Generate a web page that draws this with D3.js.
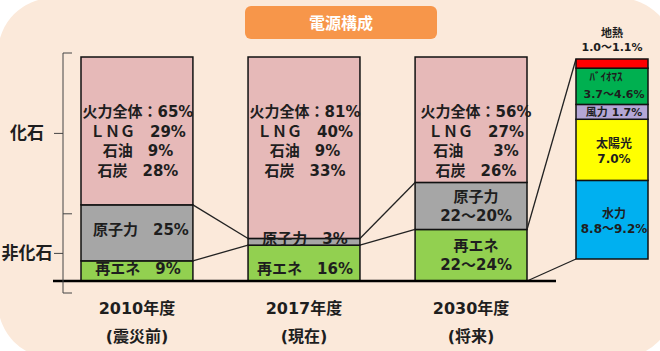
<!DOCTYPE html>
<html><head><meta charset="utf-8">
<script src="https://cdn.jsdelivr.net/npm/d3@7"></script>
<style>
html,body{margin:0;padding:0;background:#fff;}
text{font-family:"DejaVu Sans","Noto Sans CJK JP",sans-serif;font-weight:bold;fill:#1e1e1e;}
</style></head>
<body><svg id="c" width="660" height="351"></svg>
<script>
// ---- data ----
const title = "電源構成";
const categories = ["2010年度", "2017年度", "2030年度"];
const periodLabels = ["(震災前)", "(現在)", "(将来)"];
const renewables = [9, 16, 23];      // 2030: 22～24%
const nuclear = [25, 3, 21];         // 2030: 22～20%
const fossilTotal = [65, 81, 56];
const lngShare = [29, 40, 27];
const oilShare = [9, 9, 3];
const coalShare = [28, 33, 26];
const renewLabels = [["再エネ　9%"], ["再エネ　16%"], ["再エネ", "22～24%"]];
const nuclearLabels = [["原子力　25%"], ["原子力　3%"], ["原子力", "22～20%"]];
const groupLabels = ["化石", "非化石"];

const detailNames = ["水力", "太陽光", "風力", "ﾊﾞｲｵﾏｽ", "地熱"];
const detailLow = [8.8, 7.0, 1.7, 3.7, 1.0];
const detailHigh = [9.2, 7.0, 1.7, 4.6, 1.1];
const detailColors = ["#00b0f0", "#ffff00", "#b4a7d6", "#00b050", "#ff0000"];

// ---- layout ----
const svg = d3.select("#c");
svg.append("rect").attr("x", -2).attr("y", -2).attr("width", 676).attr("height", 360)
  .attr("rx", 55).attr("fill", "#fbe9da");

// title box
svg.append("rect").attr("x", 245).attr("y", 6).attr("width", 192).attr("height", 33)
  .attr("rx", 6).attr("fill", "#f7964a");
svg.append("text").attr("x", 341).attr("y", 23).attr("dy", "0.35em").attr("text-anchor", "middle")
  .style("fill", "#fff").style("font-size", "16px").style("font-family", "'Noto Sans CJK JP'")
  .text(title);

const x = d3.scaleBand().domain(categories).range([81, 527]).paddingInner(0.33).paddingOuter(0);
const y = d3.scaleLinear().domain([0, 100]).range([281, 57]);

const stacks = categories.map((c, i) => ({
  cat: c, i,
  segs: [
    { key: "renew", y0: 0, y1: renewables[i], color: "#92d050" },
    { key: "nuclear", y0: renewables[i], y1: renewables[i] + nuclear[i], color: "#a6a6a6" },
    { key: "fossil", y0: renewables[i] + nuclear[i], y1: 100, color: "#e6b9b8" }
  ]
}));

const g = svg.append("g");
stacks.forEach(s => {
  g.selectAll(null).data(s.segs).enter().append("rect")
    .attr("x", x(s.cat)).attr("width", x.bandwidth())
    .attr("y", d => y(d.y1)).attr("height", d => y(d.y0) - y(d.y1))
    .attr("fill", d => d.color).attr("stroke", "#111").attr("stroke-width", 1.5);
});

// connector lines between bars
const lineG = svg.append("g").attr("stroke", "#222").attr("stroke-width", 1.3).attr("fill", "none");
for (let i = 0; i < categories.length - 1; i++) {
  const xa = x(categories[i]) + x.bandwidth(), xb = x(categories[i + 1]);
  [renewables, renewables.map((r, k) => r + nuclear[k])].forEach(arr => {
    lineG.append("line").attr("x1", xa).attr("y1", y(arr[i])).attr("x2", xb).attr("y2", y(arr[i + 1]));
  });
}

// detail bar (2030 renewables breakdown)
const mids = detailLow.map((v, i) => (v + detailHigh[i]) / 2);
const cum = []; let acc = 0;
mids.forEach(m => { cum.push([acc, acc + m]); acc += m; });
const yd = d3.scaleLinear().domain([0, acc]).range([259, 59]);
const dx0 = 576, dw = 72;
svg.append("g").selectAll("rect").data(cum).enter().append("rect")
  .attr("x", dx0).attr("width", dw)
  .attr("y", d => yd(d[1])).attr("height", d => yd(d[0]) - yd(d[1]))
  .attr("fill", (d, i) => detailColors[i]).attr("stroke", "#111").attr("stroke-width", 1.5);

const last = categories[2];
lineG.append("line").attr("x1", x(last) + x.bandwidth()).attr("y1", y(renewables[2]))
  .attr("x2", dx0).attr("y2", yd(acc));
lineG.append("line").attr("x1", x(last) + x.bandwidth()).attr("y1", y(0))
  .attr("x2", dx0).attr("y2", yd(0));

// baseline axis
svg.append("line").attr("x1", 53).attr("x2", 556).attr("y1", y(0)).attr("y2", y(0))
  .attr("stroke", "#000").attr("stroke-width", 2.5);

// left bracket
const bx = 63;
const bTop = y(100) - 4, bMid = y(30), bBot = y(0) + 12;
const br = svg.append("g").attr("stroke", "#444").attr("stroke-width", 1).attr("fill", "none");
br.append("line").attr("x1", bx).attr("x2", bx).attr("y1", bTop).attr("y2", bBot);
[bTop, bMid, bBot].forEach(v => br.append("line").attr("x1", bx).attr("x2", bx + 9).attr("y1", v).attr("y2", v));
const gMid = [(bTop + bMid) / 2, (bMid + bBot) / 2];
gMid.forEach(v => br.append("line").attr("x1", bx - 9).attr("x2", bx).attr("y1", v).attr("y2", v));
groupLabels.forEach((t, i) => {
  svg.append("text").attr("x", 27).attr("y", gMid[i]).attr("dy", "0.35em").attr("text-anchor", "middle")
    .style("font-size", "17px").text(t);
});

// bar labels
function multi(sel, lines, cx, cy, lh, size) {
  const t = sel.append("text").attr("text-anchor", "middle").style("font-size", size + "px");
  const n = lines.length;
  lines.forEach((l, k) => {
    t.append("tspan").attr("x", cx).attr("y", cy + (k - (n - 1) / 2) * lh).attr("dy", "0.35em").text(l);
  });
  return t;
}
const lab = svg.append("g");
categories.forEach((c, i) => {
  const cx = x(c) + x.bandwidth() / 2 + (i === 2 ? 5 : 1);
  const topY = y(100);
  multi(lab, [
    `火力全体：${fossilTotal[i]}%`,
    `ＬＮＧ　${lngShare[i]}%`,
    i === 2 ? `石油　　${oilShare[i]}%` : `石油　${oilShare[i]}%`,
    `石炭　${coalShare[i]}%`
  ], cx, topY + 84, 19.5, 15);
  const nMid = (y(renewables[i]) + y(renewables[i] + nuclear[i])) / 2;
  multi(lab, nuclearLabels[i], cx + (i === 0 ? 3 : 0), nuclearLabels[i].length > 1 ? nMid : nMid - 3, 19, 15);
  const rMid = renewLabels[i].length > 1 ? (y(0) + y(renewables[i])) / 2 : y(0) - 12;
  multi(lab, renewLabels[i], cx, rMid, 19, 15);
  multi(lab, [c], x(c) + x.bandwidth() / 2, 308, 0, 16);
  multi(lab, [periodLabels[i]], x(c) + x.bandwidth() / 2, 336, 0, 16);
});

// detail labels
const dcx = dx0 + dw / 2 + 2;
const fmt = i => detailLow[i] === detailHigh[i] ? `${detailLow[i].toFixed(1)}%` : `${detailLow[i].toFixed(1)}～${detailHigh[i].toFixed(1)}%`;
cum.forEach((d, i) => {
  const m = (yd(d[0]) + yd(d[1])) / 2;
  if (i === 4) {
    multi(lab, [detailNames[i], fmt(i)], dcx - 2, yd(d[1]) - 19, 14, 11);
  } else if (i === 2) {
    multi(lab, [`${detailNames[i]} ${fmt(i)}`], dcx, m, 0, 11);
  } else if (i === 3) {
    const t = lab.append("text").style("font-size", "11px");
    t.append("tspan").attr("x", dcx - 8).attr("text-anchor", "middle").attr("y", m - 9).attr("dy", "0.35em").text(detailNames[i]);
    t.append("tspan").attr("x", dcx).attr("text-anchor", "middle").attr("y", m + 8).attr("dy", "0.35em").text(fmt(i));
  } else {
    multi(lab, [detailNames[i], fmt(i)], dcx, m + 1.5, 15, 12);
  }
});
</script></body></html>
